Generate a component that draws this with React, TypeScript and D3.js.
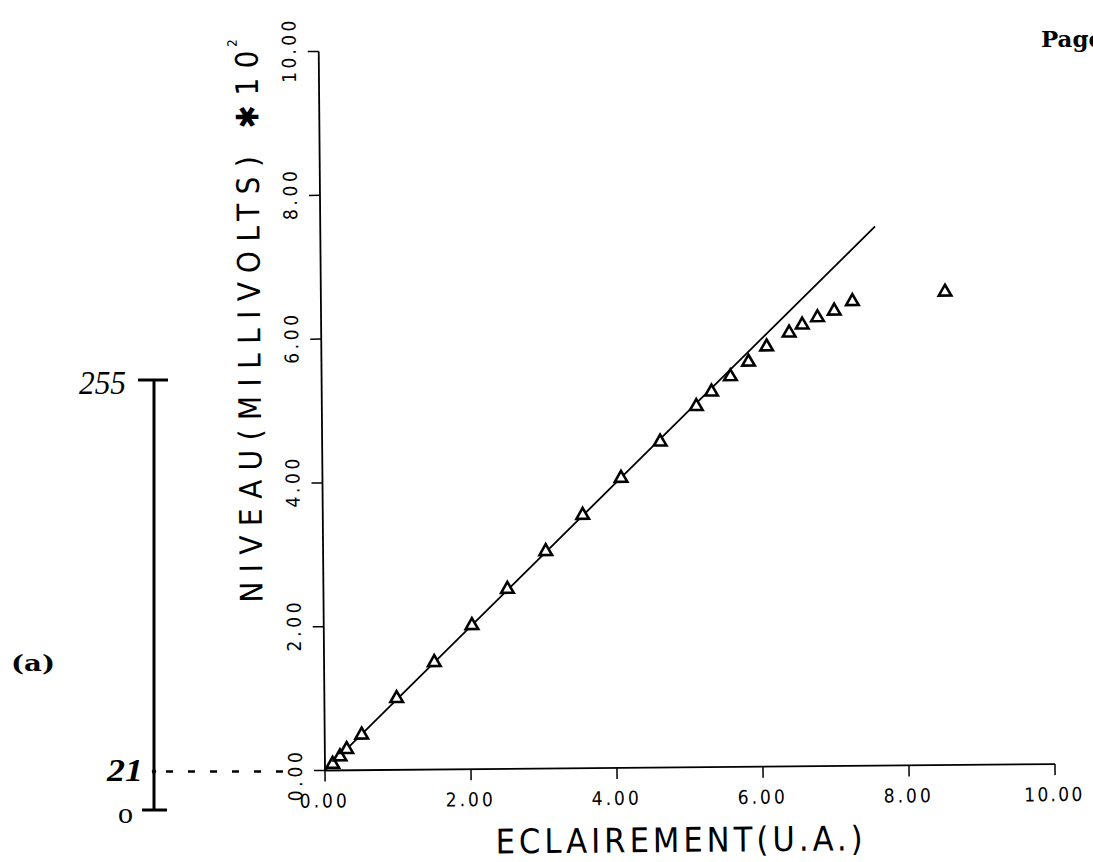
import React from "react";
import * as d3 from "d3";

// Measured points (Eclairement U.A. vs Niveau mV*10^2)
const eclairement = [0.106, 0.207, 0.30, 0.507, 0.99, 1.51, 2.03, 2.52, 3.05, 3.56, 4.09, 4.63, 5.13, 5.34, 5.60, 5.85, 6.10, 6.41, 6.59, 6.80, 7.03, 7.28, 8.55];
const niveau = [0.089, 0.19, 0.292, 0.49, 0.995, 1.49, 2.0, 2.50, 3.02, 3.52, 4.03, 4.53, 5.02, 5.22, 5.43, 5.63, 5.84, 6.03, 6.14, 6.24, 6.33, 6.46, 6.58];
// Fitted straight line
const fitX = [0, 7.6];
const fitY = [0, 7.5];
// Ticks
const xTicks = [0, 2, 4, 6, 8, 10];
const yTicks = [0, 2, 4, 6, 8, 10];
const tickLabel = (v: number) => v.toFixed(2);

const W = 1093;
const H = 862;
const plotFont = "'Liberation Sans Narrow', 'DejaVu Sans Condensed', 'Liberation Sans', sans-serif";
const typeFont = "'DejaVu Serif', 'Liberation Serif', serif";

export default function App() {
  const x = d3.scaleLinear().domain([0, 10]).range([325, 1055]);
  const y = d3.scaleLinear().domain([0, 10]).range([770.5, 51.5]);
  const line = d3.line<number>().x((_, i) => x(fitX[i])).y((_, i) => y(fitY[i]));
  const tri = d3.symbol().type(d3.symbolTriangle).size(68)();
  const x0 = x(0);
  const y0 = y(0);

  return (
    <svg
      width={W}
      height={H}
      viewBox={`0 0 ${W} ${H}`}
      style={{ position: "absolute", left: 0, top: 0, background: "#fff" }}
    >
      <rect x={0} y={0} width={W} height={H} fill="#fff" />
      <g transform={`rotate(-0.5, ${x0}, ${y0})`}>
        {/* axes */}
        <line x1={x0} y1={y0} x2={x(10)} y2={y0} stroke="#000" strokeWidth={1.8} />
        <line x1={x0} y1={y0} x2={x0} y2={y(10)} stroke="#000" strokeWidth={1.8} />
        {xTicks.map((t) => (
          <g key={"xt" + t}>
            <line x1={x(t)} y1={y0} x2={x(t)} y2={y0 + 11} stroke="#000" strokeWidth={1.5} />
            <text
              x={x(t) - 2}
              y={y0 + 37}
              textAnchor="middle"
              fontFamily={plotFont}
              fontWeight={300}
              fontSize={19}
              textLength={tickLabel(t).length > 4 ? 58 : 47}
              lengthAdjust="spacing"
            >
              {tickLabel(t)}
            </text>
          </g>
        ))}
        {yTicks.map((t) => (
          <g key={"yt" + t}>
            <line x1={x0} y1={y(t)} x2={x0 - 11} y2={y(t)} stroke="#000" strokeWidth={1.5} />
            <text
              transform={`translate(${x0 - 23}, ${y(t) + (t === 0 ? 6 : 0)}) rotate(-90)`}
              textAnchor="middle"
              fontFamily={plotFont}
              fontWeight={300}
              fontSize={19}
              textLength={tickLabel(t).length > 4 ? 62 : 49}
              lengthAdjust="spacing"
            >
              {tickLabel(t)}
            </text>
          </g>
        ))}
        {/* fitted line */}
        <path d={line(fitX) || ""} fill="none" stroke="#000" strokeWidth={1.8} />
        {/* points */}
        {eclairement.map((v, i) => (
          <path
            key={"p" + i}
            d={tri || ""}
            transform={`translate(${x(v)}, ${y(niveau[i])})`}
            fill="#fff"
            stroke="#000"
            strokeWidth={2.6}
          />
        ))}
        {/* axis titles */}
        <text
          x={495}
          y={855}
          fontFamily={plotFont}
          fontWeight={300}
          fontSize={34}
          textLength={367}
          lengthAdjust="spacing"
        >
          ECLAIREMENT(U.A.)
        </text>
        <text
          transform="translate(264, 602) rotate(-90)"
          fontFamily={plotFont}
          fontWeight={300}
          fontSize={31}
          textLength={552}
          lengthAdjust="spacing"
        >
          NIVEAU(MILLIVOLTS) ✱10
        </text>
        <text
          transform="translate(243, 46) rotate(-90)"
          fontFamily={plotFont}
          fontWeight={300}
          fontSize={13}
        >
          2
        </text>
      </g>

      {/* handwritten scale annotation */}
      <line x1={154} y1={380} x2={154} y2={810} stroke="#000" strokeWidth={3} />
      <line x1={138} y1={380} x2={168} y2={380} stroke="#000" strokeWidth={3} />
      <line x1={142} y1={810} x2={167} y2={810} stroke="#000" strokeWidth={3} />
      <circle cx={154} cy={771.5} r={2.2} fill="#000" />
      <line x1={166} y1={771.5} x2={288} y2={771.5} stroke="#000" strokeWidth={2.5} strokeDasharray="7 15" />
      <text x={79} y={394} fontFamily="'Liberation Serif', serif" fontStyle="italic" fontSize={34} textLength={47} lengthAdjust="spacingAndGlyphs">
        255
      </text>
      <text x={107} y={781} fontFamily="'Liberation Serif', serif" fontStyle="italic" fontWeight="bold" fontSize={32} textLength={36} lengthAdjust="spacingAndGlyphs">
        21
      </text>
      <text x={118} y={823} fontFamily="'Liberation Serif', serif" fontSize={30}>
        o
      </text>

      {/* page annotations */}
      <text x={11} y={671} fontFamily={typeFont} fontWeight="bold" fontSize={23} textLength={44} lengthAdjust="spacingAndGlyphs">
        (a)
      </text>
      <text x={1041} y={47} fontFamily={typeFont} fontWeight="bold" fontSize={23} textLength={62} lengthAdjust="spacingAndGlyphs">
        Page
      </text>
    </svg>
  );
}
